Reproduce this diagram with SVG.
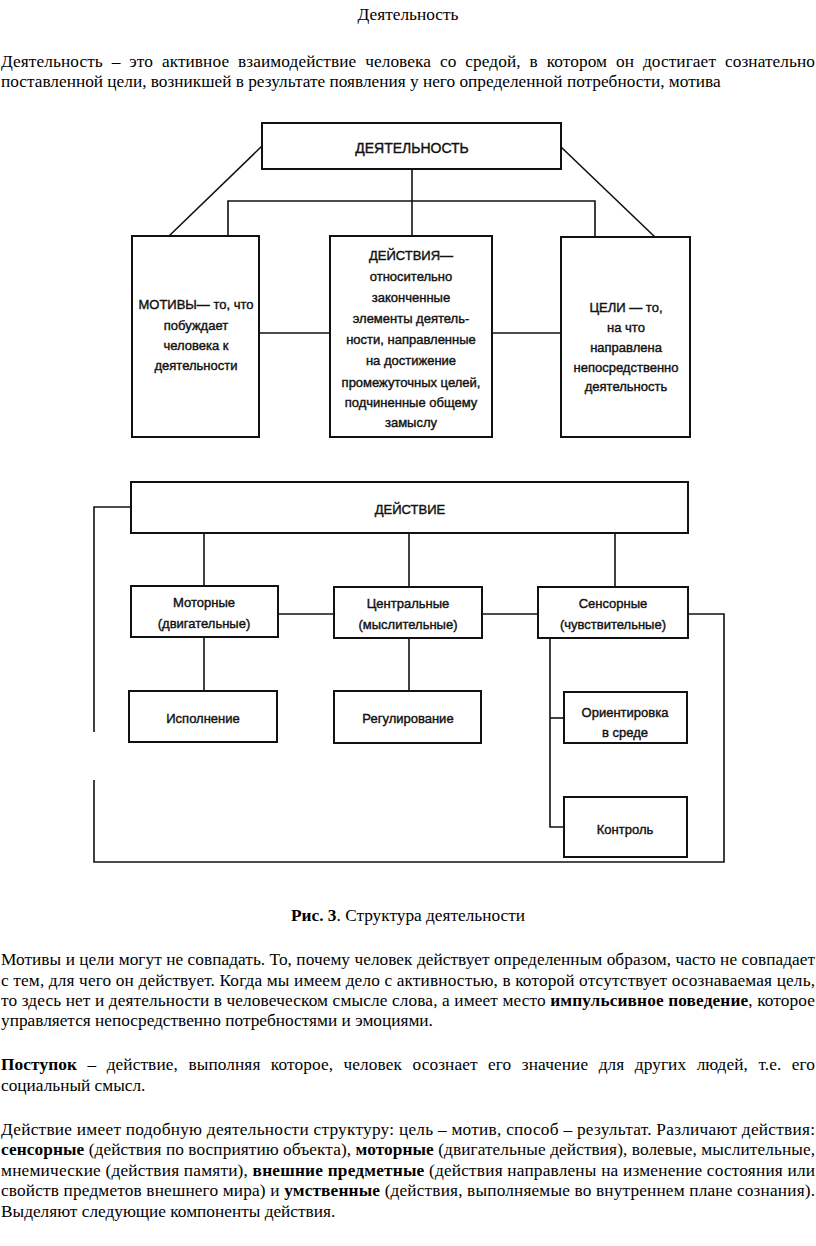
<svg xmlns="http://www.w3.org/2000/svg" width="816" height="1246" viewBox="0 0 816 1246">
<style>
.bg{fill:#fff}
.box{fill:#fff;stroke:#111;stroke-width:2}
.ln{fill:none;stroke:#111;stroke-width:1.6}
.dt{font-family:"Liberation Sans",Arial,sans-serif;font-size:13px;text-anchor:middle;fill:#111;stroke:#111;stroke-width:0.4}
.dh{font-size:14px}
.tx{font-family:"Liberation Serif","Times New Roman",serif;font-size:17.3px;fill:#000}
.b{font-weight:bold}
</style>
<rect class="bg" x="0" y="0" width="816" height="1246"/>

<g id="page-text">
<text class="tx" x="408" y="20" text-anchor="middle" font-size="22">Деятельность</text>
<text class="tx" x="1" y="67" word-spacing="4.5" textLength="814" lengthAdjust="spacing">Деятельность – это активное взаимодействие человека со средой, в котором он достигает сознательно</text>
<text class="tx" x="1" y="87">поставленной цели, возникшей в результате появления у него определенной потребности, мотива</text>

<text class="tx" x="408" y="921" text-anchor="middle" font-size="15.5"><tspan class="b">Рис. 3</tspan>. Структура деятельности</text>

<text class="tx" x="1" y="965" textLength="814" lengthAdjust="spacing">Мотивы и цели могут не совпадать. То, почему человек действует определенным образом, часто не совпадает</text>
<text class="tx" x="1" y="986" textLength="814" lengthAdjust="spacing">с тем, для чего он действует. Когда мы имеем дело с активностью, в которой отсутствует осознаваемая цель,</text>
<text class="tx" x="1" y="1006" textLength="814" lengthAdjust="spacing">то здесь нет и деятельности в человеческом смысле слова, а имеет место <tspan class="b">импульсивное поведение</tspan>, которое</text>
<text class="tx" x="1" y="1026">управляется непосредственно потребностями и эмоциями.</text>

<text class="tx" x="1" y="1070" word-spacing="6" textLength="814" lengthAdjust="spacing"><tspan class="b">Поступок</tspan> – действие, выполняя которое, человек осознает его значение для других людей, т.е. его</text>
<text class="tx" x="1" y="1091">социальный смысл.</text>

<text class="tx" x="1" y="1135" textLength="814" lengthAdjust="spacing">Действие имеет подобную деятельности структуру: цель – мотив, способ – результат. Различают действия:</text>
<text class="tx" x="1" y="1155" textLength="814" lengthAdjust="spacing"><tspan class="b">сенсорные</tspan> (действия по восприятию объекта), <tspan class="b">моторные</tspan> (двигательные действия), волевые, мыслительные,</text>
<text class="tx" x="1" y="1176" textLength="814" lengthAdjust="spacing">мнемические (действия памяти), <tspan class="b">внешние предметные</tspan> (действия направлены на изменение состояния или</text>
<text class="tx" x="1" y="1196" textLength="814" lengthAdjust="spacing">свойств предметов внешнего мира) и <tspan class="b">умственные</tspan> (действия, выполняемые во внутреннем плане сознания).</text>
<text class="tx" x="1" y="1217">Выделяют следующие компоненты действия.</text>
</g>

<g id="connectors">
<path class="ln" d="M412 169V236"/>
<path class="ln" d="M228 236V201H595V237"/>
<path class="ln" d="M262 146L169 236"/>
<path class="ln" d="M561 147L656 238"/>
<path class="ln" d="M259 333H330"/>
<path class="ln" d="M492 333H561"/>
<path class="ln" d="M131 507H94V732"/>
<path class="ln" d="M94 780V862H724V614H688"/>
<path class="ln" d="M204 533V586"/>
<path class="ln" d="M409 533V587"/>
<path class="ln" d="M615 533V587"/>
<path class="ln" d="M278 614H334"/>
<path class="ln" d="M482 614H538"/>
<path class="ln" d="M204 637V691"/>
<path class="ln" d="M409 638V691"/>
<path class="ln" d="M550 638V827H564"/>
<path class="ln" d="M550 718H564"/>
</g>

<g id="n-deyatelnost">
<rect class="box" x="262" y="123" width="299" height="46"/>
<text class="dt dh" x="412" y="153">ДЕЯТЕЛЬНОСТЬ</text>
</g>
<g id="n-motivy">
<rect class="box" x="132" y="236" width="127" height="201"/>
<text class="dt" x="196" y="309">МОТИВЫ— то, что</text>
<text class="dt" x="196" y="330">побуждает</text>
<text class="dt" x="196" y="350">человека к</text>
<text class="dt" x="196" y="370">деятельности</text>
</g>
<g id="n-deystviya">
<rect class="box" x="330" y="236" width="162" height="201"/>
<text class="dt" x="411" y="260">ДЕЙСТВИЯ—</text>
<text class="dt" x="411" y="281">относительно</text>
<text class="dt" x="411" y="302">законченные</text>
<text class="dt" x="411" y="323">элементы деятель-</text>
<text class="dt" x="411" y="344">ности, направленные</text>
<text class="dt" x="411" y="365">на достижение</text>
<text class="dt" x="411" y="387">промежуточных целей,</text>
<text class="dt" x="411" y="407">подчиненные общему</text>
<text class="dt" x="411" y="427">замыслу</text>
</g>
<g id="n-tseli">
<rect class="box" x="561" y="237" width="129" height="200"/>
<text class="dt" x="626" y="312">ЦЕЛИ — то,</text>
<text class="dt" x="626" y="332">на что</text>
<text class="dt" x="626" y="352">направлена</text>
<text class="dt" x="626" y="372">непосредственно</text>
<text class="dt" x="626" y="391">деятельность</text>
</g>

<g id="n-deystvie">
<rect class="box" x="131" y="482" width="557" height="51"/>
<text class="dt" x="410" y="514">ДЕЙСТВИЕ</text>
</g>
<g id="n-motornye">
<rect class="box" x="131" y="586" width="147" height="51"/>
<text class="dt" x="204" y="607">Моторные</text>
<text class="dt" x="204" y="628">(двигательные)</text>
</g>
<g id="n-tsentralnye">
<rect class="box" x="334" y="587" width="148" height="51"/>
<text class="dt" x="408" y="608">Центральные</text>
<text class="dt" x="408" y="629">(мыслительные)</text>
</g>
<g id="n-sensornye">
<rect class="box" x="538" y="587" width="150" height="51"/>
<text class="dt" x="613" y="608">Сенсорные</text>
<text class="dt" x="613" y="629">(чувствительные)</text>
</g>
<g id="n-ispolnenie">
<rect class="box" x="129" y="691" width="148" height="51"/>
<text class="dt" x="203" y="723">Исполнение</text>
</g>
<g id="n-regulirovanie">
<rect class="box" x="334" y="691" width="147" height="52"/>
<text class="dt" x="408" y="723">Регулирование</text>
</g>
<g id="n-orientirovka">
<rect class="box" x="564" y="692" width="123" height="51"/>
<text class="dt" x="625" y="717">Ориентировка</text>
<text class="dt" x="625" y="737">в среде</text>
</g>
<g id="n-kontrol">
<rect class="box" x="564" y="797" width="123" height="60"/>
<text class="dt" x="625" y="834">Контроль</text>
</g>
</svg>
